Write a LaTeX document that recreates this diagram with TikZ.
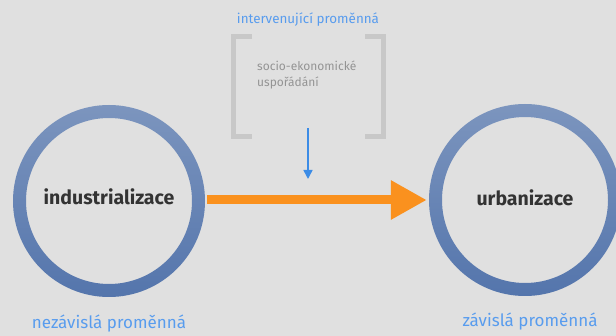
\documentclass[tikz,border=0pt]{standalone}
\usepackage{fontspec}
\setmainfont{Fira Sans}
\usetikzlibrary{arrows.meta}
\definecolor{bgray}{RGB}{224,224,224}
\definecolor{ringtop}{RGB}{124,149,190}
\definecolor{ringbot}{RGB}{84,117,172}
\definecolor{labblue}{RGB}{88,156,238}
\definecolor{arrblue}{RGB}{60,140,230}
\definecolor{arrorange}{RGB}{250,145,30}
\definecolor{brgray}{RGB}{200,200,200}

\begin{document}
\begin{tikzpicture}[x=1pt,y=-1pt,
  var/.style={circle,minimum size=192pt,inner sep=0pt,font=\bfseries\fontsize{19.5}{21}\selectfont,text=black!80},
  varlbl/.style={text=labblue,font=\fontsize{17}{19}\selectfont},
  bracket/.style={draw=brgray,line width=5pt}]
\fill[bgray] (0,0) rectangle (616,336);
\useasboundingbox (0,0) rectangle (616,336);
% variables
\node[var] (ind) at (109,197) {industrializace};
\node[var] (urb) at (525,198) {urbanizace};
\shade[top color=ringtop,bottom color=ringbot,even odd rule] (109,201) circle (96) circle (83);
\shade[top color=ringtop,bottom color=ringbot,even odd rule] (525,200) circle (96) circle (83);
\node[varlbl] (indlbl) at (109,324) {nezávislá proměnná};
\node[varlbl] (urblbl) at (530,322) {závislá proměnná};
% intervening variable
\node[text=labblue,font=\fontsize{13.4}{15}\selectfont] (intlbl) at (308,20) {intervenující proměnná};
\draw[bracket] (252,37) -| (233,137) -- (252,137);
\draw[bracket] (365,37) -| (383,137) -- (365,137);
\node[anchor=north west,align=left,text=black!42,font=\fontsize{12}{16}\selectfont,inner sep=0pt] (soc) at (257,61) {socio-ekonomické\\uspořádání};
\coordinate (top) at (308,128);
\coordinate (bot) at (308,179);
\draw[-{Triangle[length=9pt,width=9pt]},arrblue,line width=1.5pt] (top) -- (bot);
% main arrow
\draw[-{Triangle[length=36pt,width=37pt]},arrorange,line width=9pt,shorten <=2pt,shorten >=2pt] (ind.east |- 0,200) -- (urb.west |- 0,200);
\end{tikzpicture}
\end{document}
